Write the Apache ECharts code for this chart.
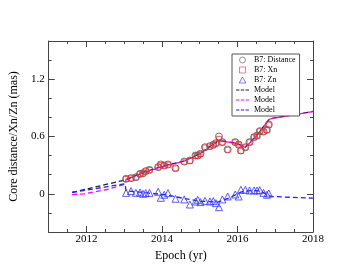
<!DOCTYPE html>
<html><head><meta charset="utf-8">
<script src="https://cdn.jsdelivr.net/npm/echarts@6/dist/echarts.min.js"></script>
<style>html,body{margin:0;padding:0;background:#fff}#c{width:353px;height:273px}</style>
</head><body><div id="c"></div>
<script>
// Observations
const epochs = [2013.05,2013.18,2013.31,2013.42,2013.50,2013.57,2013.67,2013.90,2013.97,2014.06,2014.16,2014.36,2014.59,2014.74,2014.89,2014.95,2015.02,2015.14,2015.27,2015.36,2015.43,2015.51,2015.60,2015.74,2015.94,2016.03,2016.09,2016.21,2016.32,2016.44,2016.52,2016.59,2016.69,2016.78,2016.83];
const distance = [0.157,0.164,0.174,0.209,0.216,0.237,0.251,0.279,0.307,0.296,0.307,0.269,0.338,0.349,0.401,0.401,0.419,0.488,0.499,0.513,0.530,0.600,0.541,0.464,0.541,0.516,0.453,0.488,0.541,0.593,0.610,0.656,0.652,0.670,0.725];
const xn = [0.155,0.162,0.172,0.207,0.214,0.235,0.249,0.277,0.303,0.294,0.305,0.266,0.336,0.346,0.398,0.398,0.416,0.485,0.496,0.510,0.527,0.575,0.538,0.461,0.540,0.515,0.450,0.486,0.540,0.592,0.609,0.655,0.650,0.668,0.724];
const zn = [0.010,0.028,0.010,0.014,0.000,0.007,0.010,0.021,-0.042,-0.010,0.007,-0.052,-0.059,-0.112,-0.080,-0.063,-0.087,-0.073,-0.080,-0.077,-0.098,-0.140,-0.059,-0.028,-0.007,-0.028,0.042,0.042,0.035,0.035,0.035,0.038,0.010,-0.010,0.003];
// Models
const distModelX = [2011.62,2013.05,2013.50,2014.08,2014.60,2015.00,2015.51,2015.95,2016.21,2016.50,2016.85,2018.00];
const distModelY = [0.014,0.147,0.225,0.295,0.345,0.420,0.560,0.530,0.490,0.610,0.785,0.862];
const xnModelX = [2011.62,2011.94,2012.54,2013.02,2013.05,2013.50,2014.08,2014.60,2015.00,2015.51,2015.95,2016.21,2016.50,2016.85,2018.00];
const xnModelY = [-0.008,0.000,0.045,0.100,0.150,0.220,0.292,0.342,0.418,0.556,0.528,0.485,0.605,0.782,0.862];
const znModelX = [2011.62,2013.02,2013.05,2013.60,2014.10,2014.60,2015.00,2015.50,2015.80,2016.10,2016.40,2016.60,2016.89,2018.00];
const znModelY = [0.014,0.105,0.030,0.010,-0.010,-0.050,-0.078,-0.085,-0.040,0.020,0.035,0.030,-0.028,-0.046];
const xMajorTicks = [2012,2014,2016,2018];
const yMajorTicks = [0,0.6,1.2];

const zip = (a,b) => a.map((v,i)=>[v,b[i]]);
const F = 'Liberation Serif, Times New Roman, serif';
const AX = '#444';
const near = (v, arr) => arr.some(t => Math.abs(v - t) < 1e-6);

function xAx(pos, labels, major) {
  return {
    type:'value', min:2011, max:2018, position:pos,
    interval: major ? undefined : 0.5,
    axisLine:{show:!major, onZero:false, lineStyle:{color:AX, width:1}},
    axisTick:{show:true, inside:true, length: major?6:3, lineStyle:{color:AX},
      customValues: major ? xMajorTicks : undefined},
    axisLabel:{show:labels, formatter: v => near(v, xMajorTicks) ? String(Math.round(v)) : '',
      fontFamily:F, fontSize:11, color:'#000', margin:2},
    splitLine:{show:false},
    name: labels ? 'Epoch (yr)' : '', nameLocation:'middle', nameGap:17,
    nameTextStyle:{fontFamily:F, fontSize:12, color:'#000'}
  };
}
function yAx(pos, labels, major) {
  return {
    type:'value', min:-0.4, max:1.6, position:pos,
    interval: major ? undefined : 0.2,
    axisLine:{show:!major, onZero:false, lineStyle:{color:AX, width:1}},
    axisTick:{show:true, inside:true, length: major?6:3, lineStyle:{color:AX},
      customValues: major ? yMajorTicks : undefined},
    axisLabel:{show:labels, formatter: v => near(v, yMajorTicks) ? (Math.abs(v)<1e-6 ? '0' : v.toFixed(1)) : '',
      fontFamily:F, fontSize:11, color:'#000', margin:4},
    splitLine:{show:false},
    name: labels ? 'Core distance/Xn/Zn (mas)' : '', nameLocation:'middle', nameGap:24, nameRotate:90,
    nameTextStyle:{fontFamily:F, fontSize:12, color:'#000'}
  };
}

const dashIcon = 'path://M0,0h3.6v1.3h-3.6zM5,0h3.6v1.3h-3.6zM10,0h3.6v1.3h-3.6z';
const hollow = c => ({color:'rgba(0,0,0,0)', borderColor:c, borderWidth:0.8});
const chart = echarts.init(document.getElementById('c'), null, {renderer:'canvas'});
chart.setOption({
  animation:false,
  backgroundColor:'#fff',
  grid:{left:41, right:40, top:41, bottom:41},
  xAxis:[xAx('bottom',true,false), xAx('bottom',false,true), xAx('top',false,false), xAx('top',false,true)],
  yAxis:[yAx('left',true,false), yAx('left',false,true), yAx('right',false,false), yAx('right',false,true)],
  legend:{
    orient:'vertical', left:232, top:54, itemWidth:13, itemHeight:6, itemGap:2,
    padding:[2,4,2,4], borderColor:'#555', borderWidth:1, borderRadius:0, backgroundColor:'#fff',
    textStyle:{fontFamily:F, fontSize:8, color:'#000'},
    formatter: n => n.trim(),
    data:[
      {name:'B7: Distance', icon:'path://M5,0A5,5 0 1,1 4.99,0Z', itemStyle:hollow('#555')},
      {name:'B7: Xn', icon:'path://M0,0h9v9h-9z', itemStyle:hollow('#ee3333')},
      {name:'B7: Zn', icon:'path://M5,0L10,9L0,9Z', itemStyle:hollow('#3333ff')},
      {name:'Model', icon:dashIcon, itemStyle:{color:'#222', borderWidth:0}},
      {name:'Model ', icon:dashIcon, itemStyle:{color:'#ff00ff', borderWidth:0}},
      {name:'Model  ', icon:dashIcon, itemStyle:{color:'#2222ff', borderWidth:0}}
    ]
  },
  series:[
    {name:'Model', type:'line', data:zip(distModelX,distModelY), showSymbol:false, symbol:'none', z:2,
      lineStyle:{color:'#222', type:[5,3], width:1.3}, itemStyle:{color:'#222'}},
    {name:'Model ', type:'line', data:zip(xnModelX,xnModelY), showSymbol:false, symbol:'none', z:2,
      lineStyle:{color:'#ff00ff', type:[5,3], width:1.3}, itemStyle:{color:'#ff00ff'}},
    {name:'Model  ', type:'line', data:zip(znModelX,znModelY), showSymbol:false, symbol:'none', z:2,
      lineStyle:{color:'#2222ff', type:[5,3], width:1.3}, itemStyle:{color:'#2222ff'}},
    {name:'B7: Distance', type:'scatter', data:zip(epochs,distance), symbol:'circle', symbolSize:7, z:3,
      itemStyle:{color:'rgba(0,0,0,0)', borderColor:'#555', borderWidth:1}},
    {name:'B7: Xn', type:'scatter', data:zip(epochs,xn), symbol:'rect', symbolSize:5, z:4,
      itemStyle:{color:'rgba(0,0,0,0)', borderColor:'#ee3333', borderWidth:1}},
    {name:'B7: Zn', type:'scatter', data:zip(epochs,zn), symbol:'triangle', symbolSize:7, z:3,
      itemStyle:{color:'rgba(0,0,0,0)', borderColor:'#3333ff', borderWidth:1}}
  ]
});
</script></body></html>
